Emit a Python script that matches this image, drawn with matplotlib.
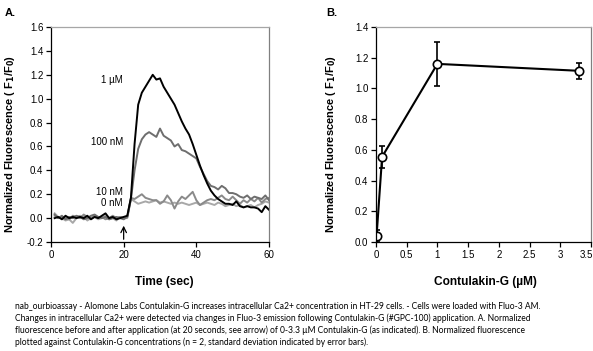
import numpy as np
import matplotlib
matplotlib.use("Agg")
import matplotlib.pyplot as plt
import matplotlib.transforms as mtransforms

plt.rcParams['font.family'] = ['Liberation Sans Narrow', 'Liberation Sans', 'DejaVu Sans']

# panel A: time course, one reading per second
time_sec = np.arange(1, 61)

trace_1uM = [0.0, 0.01, -0.01, 0.02, 0.0, 0.01, 0.0, 0.01, 0.0, 0.02,
             -0.01, 0.01, 0.0, 0.02, 0.04, 0.0, 0.01, -0.01, 0.0, 0.01,
             0.02, 0.17, 0.62, 0.95, 1.05, 1.10, 1.15, 1.20, 1.16, 1.17,
             1.10, 1.05, 1.00, 0.95, 0.88, 0.81, 0.75, 0.70, 0.62, 0.53,
             0.44, 0.36, 0.29, 0.23, 0.19, 0.16, 0.14, 0.12, 0.12, 0.11,
             0.14, 0.10, 0.09, 0.10, 0.09, 0.09, 0.08, 0.05, 0.10, 0.07]
trace_100nM = [0.03, 0.0, 0.02, -0.01, 0.01, 0.0, 0.02, 0.01, -0.01, 0.0,
               0.02, 0.03, 0.01, 0.0, 0.01, -0.01, 0.0, 0.01, 0.0, -0.01,
               0.01, 0.16, 0.40, 0.58, 0.66, 0.70, 0.72, 0.70, 0.68, 0.75,
               0.69, 0.67, 0.65, 0.60, 0.62, 0.57, 0.56, 0.54, 0.52, 0.50,
               0.43, 0.37, 0.31, 0.27, 0.26, 0.24, 0.27, 0.25, 0.21, 0.21,
               0.20, 0.18, 0.17, 0.19, 0.16, 0.18, 0.17, 0.16, 0.19, 0.15]
trace_10nM = [0.02, 0.0, 0.01, 0.0, -0.01, 0.02, 0.01, 0.0, 0.03, 0.01,
              0.0, 0.02, 0.0, 0.01, -0.01, 0.0, 0.02, 0.0, 0.01, 0.0,
              0.01, 0.17, 0.16, 0.18, 0.20, 0.17, 0.16, 0.15, 0.15, 0.12,
              0.14, 0.19, 0.15, 0.08, 0.14, 0.18, 0.16, 0.19, 0.22, 0.15,
              0.11, 0.13, 0.15, 0.16, 0.15, 0.17, 0.19, 0.16, 0.15, 0.18,
              0.15, 0.12, 0.15, 0.13, 0.16, 0.14, 0.17, 0.13, 0.16, 0.17]
trace_0nM = [0.04, 0.01, 0.0, -0.02, -0.01, -0.04, 0.0, 0.02, 0.01, -0.02,
             0.0, 0.01, -0.01, 0.0, 0.02, -0.01, 0.0, -0.02, 0.01, 0.0,
             0.0, 0.16, 0.14, 0.12, 0.13, 0.14, 0.13, 0.14, 0.15, 0.13,
             0.14, 0.13, 0.12, 0.13, 0.12, 0.13, 0.12, 0.11, 0.12, 0.13,
             0.11, 0.12, 0.13, 0.12, 0.11, 0.13, 0.12, 0.10, 0.11, 0.12,
             0.10, 0.11, 0.09, 0.10, 0.11, 0.09, 0.11, 0.12, 0.14, 0.13]

trace_labels = ['0 nM', '10 nM', '100 nM', '1 \u00b5M']
trace_label_y = [0.13, 0.22, 0.64, 1.16]

# panel B: dose response
conc_uM = [0.01, 0.1, 1.0, 3.3]
resp_mean = [0.04, 0.555, 1.16, 1.115]
resp_sd = [0.04, 0.07, 0.145, 0.052]

ylabel = 'Normalized Fluorescence ( F$_\\mathbf{1}$/F$_\\mathbf{0}$)'
bold_font = ['Liberation Sans', 'DejaVu Sans']

fig = plt.figure(figsize=(5.93, 3.51), dpi=100)
axA = fig.add_axes([0.086, 0.3105, 0.3676, 0.6125])
axB = fig.add_axes([0.634, 0.3105, 0.3626, 0.6125])


def style_axes(ax):
    ax.spines['top'].set_color('#a6a6a6')
    ax.spines['right'].set_color('#808080')
    ax.spines['left'].set_color('black')
    ax.spines['bottom'].set_color('black')
    for s in ax.spines.values():
        s.set_linewidth(0.9)
    ax.tick_params(direction='out', length=3.5, width=0.9, labelsize=7, pad=2)


colors = ['#a8a8a8', '#8a8a8a', '#6e6e6e', 'black']
traces = [trace_0nM, trace_10nM, trace_100nM, trace_1uM]
for tr, c in zip(traces, colors):
    axA.plot(time_sec, tr, color=c, lw=1.4)
for lab, yy in zip(trace_labels, trace_label_y):
    axA.text(19.8, yy, lab, ha='right', va='center', fontsize=7)
axA.annotate('', xy=(20, -0.04), xytext=(20, -0.2),
             arrowprops=dict(arrowstyle='->', color='black', lw=0.9))
axA.set_xlim(0, 60)
axA.set_ylim(-0.2, 1.6)
axA.set_xticks([0, 20, 40, 60])
axA.set_yticks(np.arange(-0.2, 1.61, 0.2))
axA.set_yticklabels(['%.1f' % v for v in np.arange(-0.2, 1.61, 0.2)])
axA.set_xlabel('Time (sec)', fontsize=8.6, fontweight='bold', family=bold_font)
axA.set_ylabel(ylabel, fontsize=8, fontweight='bold', family=bold_font)
axA.xaxis.set_label_coords(0.518, -0.158)
axA.yaxis.set_label_coords(-0.156, 0.456)
style_axes(axA)

axB.errorbar(conc_uM, resp_mean, yerr=resp_sd, color='black', lw=1.5,
             marker='o', ms=6, mfc='white', mec='black', mew=1.2,
             capsize=2.5, elinewidth=1.2, capthick=1.2)
axB.set_xlim(0, 3.5)
axB.set_ylim(0, 1.4)
axB.set_xticks(np.arange(0, 3.51, 0.5))
axB.set_xticklabels(['0', '0.5', '1', '1.5', '2', '2.5', '3', '3.5'])
axB.set_yticks(np.arange(0, 1.41, 0.2))
axB.set_yticklabels(['%.1f' % v for v in np.arange(0, 1.41, 0.2)])
axB.set_xlabel('Contulakin-G (\u00b5M)', fontsize=8.6, fontweight='bold', family=bold_font)
axB.set_ylabel(ylabel, fontsize=8, fontweight='bold', family=bold_font)
axB.xaxis.set_label_coords(0.507, -0.158)
axB.yaxis.set_label_coords(-0.177, 0.456)
style_axes(axB)

# last tick label sits right on the figure edge, nudge it in a little
last = axB.get_xticklabels()[-1]
last.set_transform(last.get_transform() + mtransforms.ScaledTranslation(-5 / 100, 0, fig.dpi_scale_trans))

fig.text(5 / 593, 1 - 13 / 351, 'A.', fontsize=8, fontweight='bold', family=bold_font, va='center')
fig.text(326 / 593, 1 - 13 / 351, 'B.', fontsize=8, fontweight='bold', family=bold_font, va='center')

caption = ("nab_ourbioassay - Alomone Labs Contulakin-G increases intracellular Ca2+ concentration in HT-29 cells. - Cells were loaded with Fluo-3 AM.\n"
           "Changes in intracellular Ca2+ were detected via changes in Fluo-3 emission following Contulakin-G (#GPC-100) application. A. Normalized\n"
           "fluorescence before and after application (at 20 seconds, see arrow) of 0-3.3 \u00b5M Contulakin-G (as indicated). B. Normalized fluorescence\n"
           "plotted against Contulakin-G concentrations (n = 2, standard deviation indicated by error bars).")
fig.text(15 / 593, 1 - 302 / 351, caption, fontsize=6.14, family=['Lato', 'DejaVu Sans'],
         va='top', ha='left', linespacing=1.33)

fig.savefig('out.png', dpi=100)
